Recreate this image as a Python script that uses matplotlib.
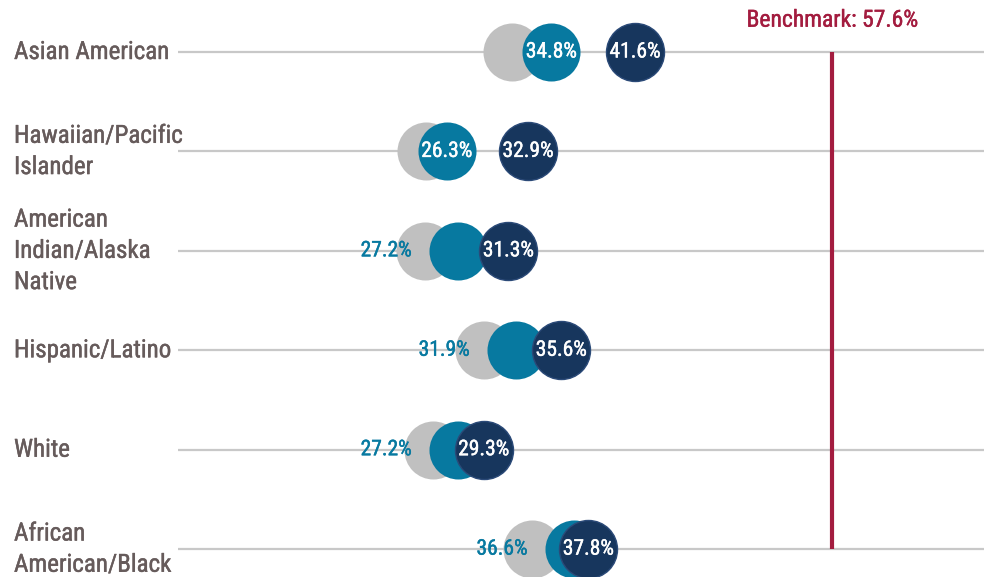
import numpy as np
import matplotlib.pyplot as plt
import matplotlib.patheffects as pe

plt.rcParams['font.family'] = ['Roboto Condensed', 'DejaVu Sans']

### data ###
groups = ['Asian American', 'Hawaiian/Pacific\nIslander', 'American\nIndian/Alaska\nNative',
          'Hispanic/Latino', 'White', 'African\nAmerican/Black']
earlier = [31.6, 24.6, 24.5, 29.3, 25.2, 33.2]   # grey, unlabelled
middle = [34.8, 26.3, 27.2, 31.9, 27.2, 36.6]    # teal
latest = [41.6, 32.9, 31.3, 35.6, 29.3, 37.8]    # navy
benchmark = 57.6

grey = '#c0c0c0'
teal = '#0779a0'
navy = '#17365d'
crimson = '#a31c3f'
textcol = '#665b5b'

def thick(col):
    # slightly heavier strokes than the regular weight
    return [pe.withStroke(linewidth=0.3, foreground=col)]

fig = plt.figure(figsize=(9.86, 5.77), dpi=100)
ax = fig.add_axes([0, 0, 1, 1])
ax.set_xlim(-9.98, 70.1)
ax.set_ylim(5.28, -0.523)
ax.axis('off')

rows = np.arange(len(groups))

# guide lines and benchmark
ax.hlines(rows, 4.48, 69.95, color='#c8c8c8', lw=1.6, zorder=0)
ax.vlines(benchmark, 0, 5, color=crimson, lw=3, zorder=1)
ax.text(benchmark, -0.32, 'Benchmark: %.1f%%' % benchmark, color=crimson,
        fontsize=17, ha='center', va='center', path_effects=thick(crimson))

size = 1745
ax.scatter(earlier, rows, s=size, color=grey, linewidths=0, zorder=2)
ax.scatter(middle, rows, s=size, color=teal, linewidths=0, zorder=3)
ax.scatter(latest, rows, s=size, color=navy, edgecolors='#2b4a78', linewidths=1, zorder=4)

for i in rows:
    ax.text(latest[i], i, '%.1f%%' % latest[i], color='white', fontsize=15.5,
            ha='center', va='center', zorder=5, path_effects=thick('white'))
    if latest[i] - middle[i] > 5:
        ax.text(middle[i], i, '%.1f%%' % middle[i], color='white', fontsize=15.5,
                ha='center', va='center', zorder=5, path_effects=thick('white'))
    else:
        # circles overlap, label goes to the left
        ax.text(middle[i] - 3.74, i, '%.1f%%' % middle[i], color=teal, fontsize=15.5,
                ha='right', va='center', zorder=5, path_effects=thick(teal))
    ax.text(14 / 986, i, groups[i], transform=ax.get_yaxis_transform(), color=textcol,
            fontsize=18, ha='left', va='center', linespacing=1.38,
            path_effects=thick(textcol))

plt.savefig('out.png', dpi=100)
